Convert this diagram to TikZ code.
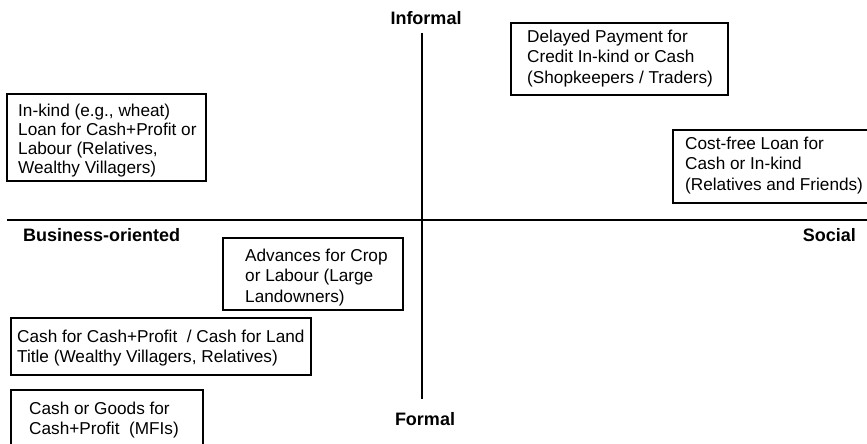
\documentclass[tikz,border=0pt]{standalone}
\usepackage{fontspec}
\setmainfont{Liberation Sans}
\begin{document}
\begin{tikzpicture}[x=1pt, y=-1pt,
  loanbox/.style={draw=black, line width=1.3pt, fill=none},
  loantext/.style={anchor=north west, inner sep=0pt, align=left,
    font=\fontsize{17.2}{20.5}\selectfont},
  axislabel/.style={inner sep=0pt, font=\fontsize{18}{21}\selectfont\bfseries},
  axisline/.style={draw=black, line width=1.1pt}]
\useasboundingbox (0,0) rectangle (867,444);

% axes
\coordinate (hl) at (7,220);
\coordinate (hr) at (867,220);
\coordinate (vt) at (422,33);
\coordinate (vb) at (422,399);
\draw[axisline] (hl) -- (hr);
\draw[axisline] (vt) -- (vb);

\node[axislabel, anchor=base] (informal) at (426,25) {Informal};
\node[axislabel, anchor=base] (formal) at (425,425.5) {Formal};
\node[axislabel, anchor=base west] (business) at (23,241) {Business-oriented};
\node[axislabel, anchor=base east] (social) at (856,241) {Social};

% loan types
\draw[loanbox] (7,94) rectangle (206,181);
\node[loantext, font=\fontsize{17.2}{19.2}\selectfont] (inkind) at (18,103.5)
  {In-kind (e.g., wheat)\\Loan for Cash+Profit or\\Labour (Relatives,\\Wealthy Villagers)};

\draw[loanbox] (511,23) rectangle (728,95);
\node[loantext] (delayed) at (527,29.5)
  {Delayed Payment for\\Credit In-kind or Cash\\(Shopkeepers / Traders)};

\draw[loanbox] (673,130) rectangle (868,203);
\node[loantext] (costfree) at (685,136.5)
  {Cost-free Loan for\\Cash or In-kind\\(Relatives and Friends)};

\draw[loanbox] (223,238) rectangle (403,310);
\node[loantext] (advances) at (245,248.5)
  {Advances for Crop\\or Labour (Large\\Landowners)};

\draw[loanbox] (11,318) rectangle (311,375);
\node[loantext] (cashland) at (17,329.5)
  {Cash for Cash+Profit\ \ / Cash for Land\\Title (Wealthy Villagers, Relatives)};

\draw[loanbox] (11,390) rectangle (203,450);
\node[loantext] (mfi) at (29,401.5)
  {Cash or Goods for\\Cash+Profit\ \ (MFIs)};
\end{tikzpicture}
\end{document}
